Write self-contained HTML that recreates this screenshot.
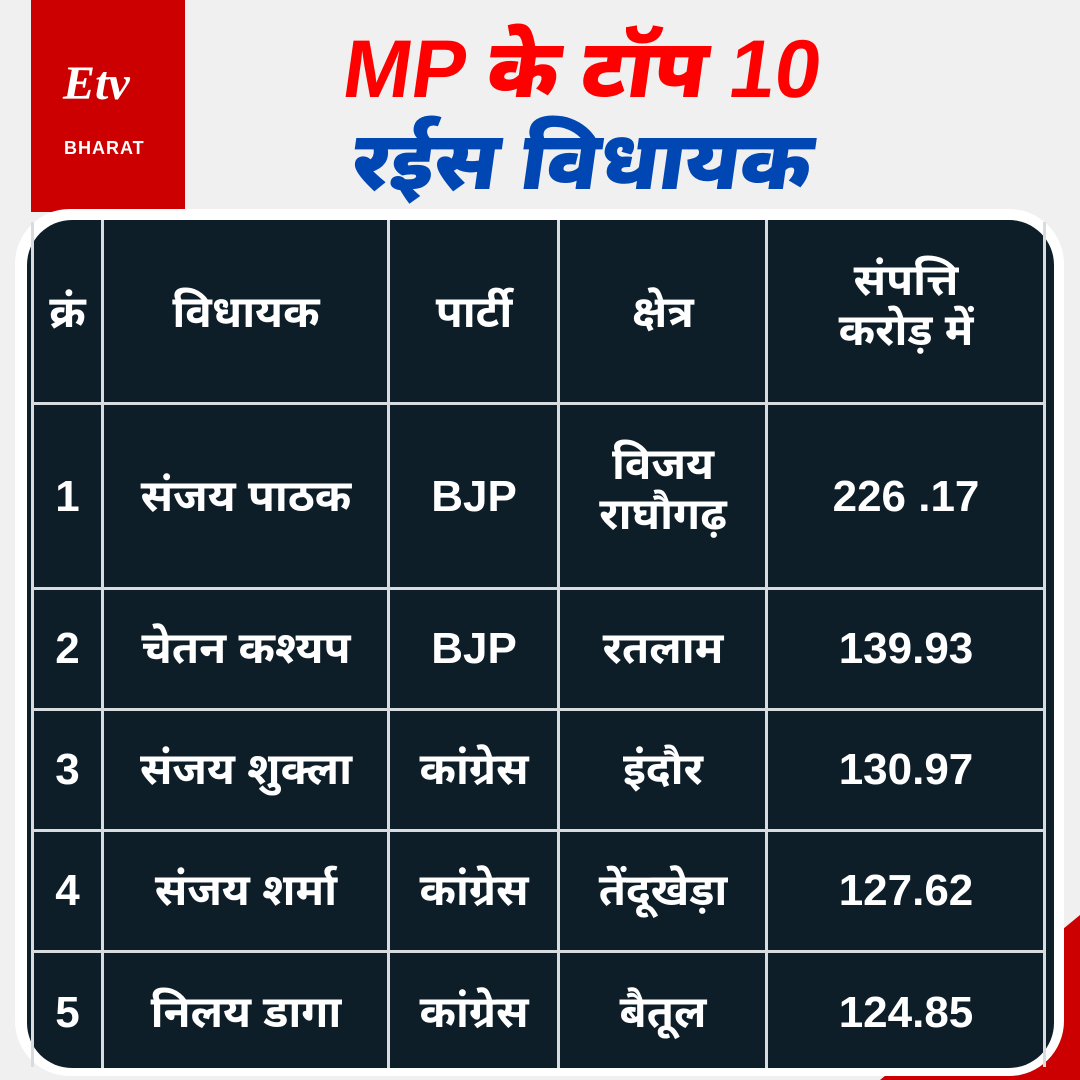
<!DOCTYPE html>
<html><head><meta charset="utf-8"><style>
body{margin:0;width:1080px;height:1080px;background:#f0f0f0;position:relative;overflow:hidden;font-family:"Liberation Sans","Noto Sans Devanagari",sans-serif}
.red{position:absolute;left:31px;top:0;width:154px;height:212px;background:#cc0000}
.tri{position:absolute;right:0;bottom:0;width:0;height:0;border-left:200px solid transparent;border-bottom:165px solid #cc0000}
.frame{position:absolute;left:15px;top:209px;width:1049px;height:867px;background:#fff;border-radius:55px}
.panel{position:absolute;left:27px;top:220px;width:1027px;height:848px;background:#0e1e29;border-radius:45px}
.t{position:absolute;color:#fff;font-weight:bold;font-size:44px;text-align:center;line-height:50px}
.hl{position:absolute;background:#d8dcdf}
.title{position:absolute;left:0;width:1165px;text-align:center;font-weight:900;transform:skewX(-8deg)}
</style></head><body>
<div class="red"></div>
<div style="position:absolute;left:63px;top:56px;color:#fff;font-size:48px;font-style:italic;font-weight:bold;font-family:'Liberation Serif',serif">Etv</div>
<div style="position:absolute;left:64px;top:138px;color:#fff;font-size:18px;font-weight:bold;letter-spacing:1px">BHARAT</div>
<div class="tri"></div>
<div class="title" style="top:24px;font-size:82px;color:#ff0000;line-height:92px">MP के टॉप 10</div>
<div class="title" style="top:116px;font-size:82px;color:#0047b3;line-height:92px">रईस विधायक</div>
<div class="frame"></div>
<div class="panel"></div>
<div class="hl" style="left:31px;top:222px;width:3px;height:845px"></div>
<div class="hl" style="left:101px;top:220px;width:3px;height:848px"></div>
<div class="hl" style="left:387px;top:220px;width:3px;height:848px"></div>
<div class="hl" style="left:557px;top:220px;width:3px;height:848px"></div>
<div class="hl" style="left:765px;top:220px;width:3px;height:848px"></div>
<div class="hl" style="left:1043px;top:222px;width:3px;height:845px"></div>
<div class="hl" style="left:33px;top:402px;width:1011px;height:3px"></div>
<div class="hl" style="left:33px;top:587px;width:1011px;height:3px"></div>
<div class="hl" style="left:33px;top:708px;width:1011px;height:3px"></div>
<div class="hl" style="left:33px;top:829px;width:1011px;height:3px"></div>
<div class="hl" style="left:33px;top:950px;width:1011px;height:3px"></div>
<div class="t" style="left:33px;width:69px;top:288px">क्रं</div>
<div class="t" style="left:104px;width:284px;top:288px">विधायक</div>
<div class="t" style="left:390px;width:168px;top:288px">पार्टी</div>
<div class="t" style="left:560px;width:206px;top:288px">क्षेत्र</div>
<div class="t" style="left:768px;width:276px;top:256px">संपत्ति<br>करोड़ में</div>
<div class="t" style="left:33px;width:69px;top:472px">1</div>
<div class="t" style="left:104px;width:284px;top:472px">संजय पाठक</div>
<div class="t" style="left:390px;width:168px;top:472px">BJP</div>
<div class="t" style="left:560px;width:206px;top:440px">विजय<br>राघौगढ़</div>
<div class="t" style="left:768px;width:276px;top:472px">226 .17</div>
<div class="t" style="left:33px;width:69px;top:624px">2</div>
<div class="t" style="left:104px;width:284px;top:624px">चेतन कश्यप</div>
<div class="t" style="left:390px;width:168px;top:624px">BJP</div>
<div class="t" style="left:560px;width:206px;top:624px">रतलाम</div>
<div class="t" style="left:768px;width:276px;top:624px">139.93</div>
<div class="t" style="left:33px;width:69px;top:745px">3</div>
<div class="t" style="left:104px;width:284px;top:745px">संजय शुक्ला</div>
<div class="t" style="left:390px;width:168px;top:745px">कांग्रेस</div>
<div class="t" style="left:560px;width:206px;top:745px">इंदौर</div>
<div class="t" style="left:768px;width:276px;top:745px">130.97</div>
<div class="t" style="left:33px;width:69px;top:866px">4</div>
<div class="t" style="left:104px;width:284px;top:866px">संजय शर्मा</div>
<div class="t" style="left:390px;width:168px;top:866px">कांग्रेस</div>
<div class="t" style="left:560px;width:206px;top:866px">तेंदूखेड़ा</div>
<div class="t" style="left:768px;width:276px;top:866px">127.62</div>
<div class="t" style="left:33px;width:69px;top:988px">5</div>
<div class="t" style="left:104px;width:284px;top:988px">निलय  डागा</div>
<div class="t" style="left:390px;width:168px;top:988px">कांग्रेस</div>
<div class="t" style="left:560px;width:206px;top:988px">बैतूल</div>
<div class="t" style="left:768px;width:276px;top:988px">124.85</div>
</body></html>
